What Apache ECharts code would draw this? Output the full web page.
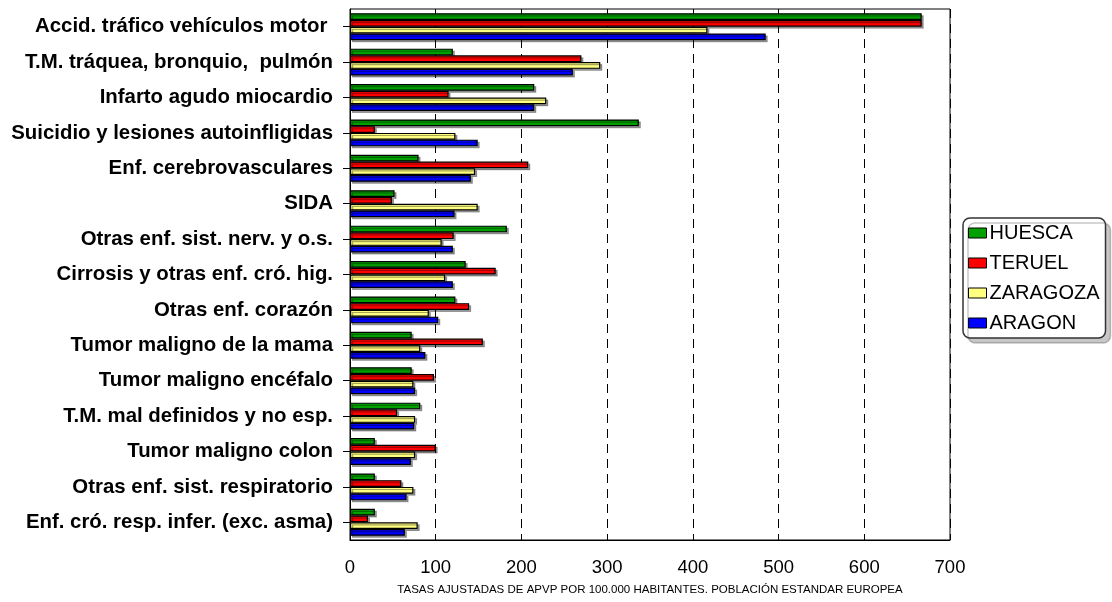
<!DOCTYPE html>
<html><head><meta charset="utf-8">
<script src="https://cdn.jsdelivr.net/npm/echarts@6/dist/echarts.min.js"></script>
<style>html,body{margin:0;padding:0;background:#fff}#c{width:1112px;height:602px}</style>
</head><body><div id="c"></div>
<script>
const categories = [
  'Accid. tráfico vehículos motor ',
  'T.M. tráquea, bronquio,  pulmón',
  'Infarto agudo miocardio',
  'Suicidio y lesiones autoinfligidas',
  'Enf. cerebrovasculares',
  'SIDA',
  'Otras enf. sist. nerv. y o.s.',
  'Cirrosis y otras enf. cró. hig.',
  'Otras enf. corazón',
  'Tumor maligno de la mama',
  'Tumor maligno encéfalo',
  'T.M. mal definidos y no esp.',
  'Tumor maligno colon',
  'Otras enf. sist. respiratorio',
  'Enf. cró. resp. infer. (exc. asma)'
];
const huesca   = [667, 120, 215, 337, 80, 52, 183, 135, 123, 72, 72, 82, 29, 29, 29];
const teruel   = [667, 270, 115, 29, 208, 49, 121, 170, 139, 155, 98, 55, 100, 60, 21];
const zaragoza = [417, 292, 229, 123, 146, 149, 107, 111, 92, 82, 74, 76, 76, 74, 79];
const aragon   = [485, 260, 215, 149, 141, 122, 120, 120, 103, 88, 76, 75, 71, 66, 64];
const seriesNames = ['HUESCA', 'TERUEL', 'ZARAGOZA', 'ARAGON'];
const seriesColors = ['#00a000', '#ff0000', '#ffff80', '#0000ff'];
const xTicks = [0, 100, 200, 300, 400, 500, 600, 700];

const FONT = 'Arial, "Liberation Sans", sans-serif';
const data = [huesca, teruel, zaragoza, aragon];
const chart = echarts.init(document.getElementById('c'), null, {renderer: 'canvas'});
chart.setOption({
  backgroundColor: '#fff',
  animation: false,
  grid: {left: 350, right: 162, top: 9, bottom: 62, show: true, borderColor: '#000', borderWidth: 1, backgroundColor: 'transparent'},
  legend: {
    orient: 'vertical', left: 963, top: 218,
    data: seriesNames,
    padding: [5, 6, 5, 5],
    itemWidth: 18, itemHeight: 10, itemGap: 10,
    icon: 'rect',
    backgroundColor: '#fff', borderColor: '#333', borderWidth: 1.5, borderRadius: 7,
    shadowColor: 'rgba(0,0,0,0.22)', shadowBlur: 0, shadowOffsetX: 5, shadowOffsetY: 5,
    textStyle: {fontFamily: FONT, fontSize: 20, color: '#000', padding: [0,0,0,-2]},
    itemStyle: {borderColor: '#000', borderWidth: 1}
  },
  xAxis: {
    type: 'value', min: xTicks[0], max: xTicks[xTicks.length-1], interval: 100,
    name: 'TASAS AJUSTADAS DE APVP POR 100.000 HABITANTES. POBLACIÓN ESTANDAR EUROPEA',
    nameLocation: 'middle', nameGap: 44,
    nameTextStyle: {fontFamily: FONT, fontSize: 11.5, color: '#000'},
    axisLine: {show: true, lineStyle: {color: '#000', width: 1}},
    axisTick: {show: true, inside: true, length: 6, lineStyle: {color: '#000'}},
    axisLabel: {fontFamily: FONT, fontSize: 18.5, color: '#000', margin: 18},
    splitLine: {show: true, lineStyle: {color: '#000', type: [9, 6], width: 1}}
  },
  yAxis: {
    type: 'category', data: categories, inverse: true,
    axisLine: {show: true, lineStyle: {color: '#000', width: 1}},
    axisTick: {show: true, alignWithLabel: true, length: 7, lineStyle: {color: '#000'}},
    axisLabel: {fontFamily: FONT, fontSize: 20.4, fontWeight: 'bold', color: '#000', margin: 17, interval: 0},
    splitLine: {show: false}
  },
  series: seriesNames.map((n, i) => ({
    name: n, type: 'bar', data: data[i],
    barGap: '0%', barCategoryGap: '24%',
    itemStyle: {color: seriesColors[i], borderColor: '#000', borderWidth: 1.2,
      shadowColor: 'rgba(0,0,0,0.35)', shadowBlur: 0, shadowOffsetX: 2, shadowOffsetY: 2}
  }))
});
</script></body></html>
